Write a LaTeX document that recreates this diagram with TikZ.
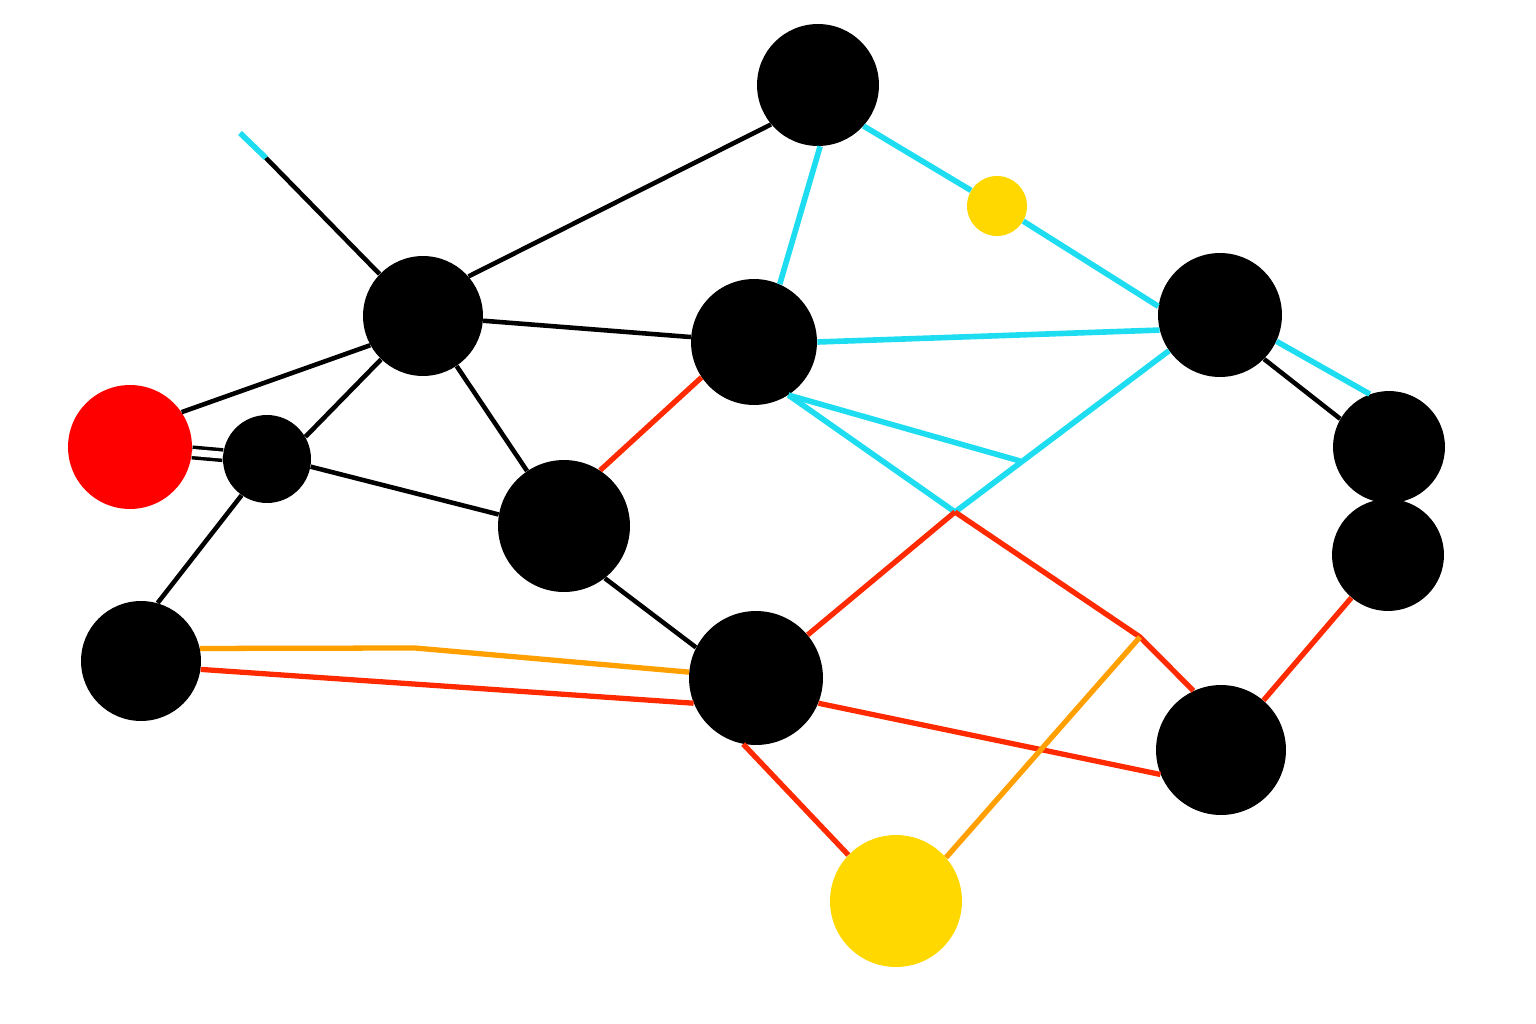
\documentclass[tikz,border=0pt]{standalone}
\usepackage{xcolor}
\usepackage{tikz}
\usetikzlibrary{calc,positioning}

\definecolor{netcyan}{HTML}{1EDDF0}
\definecolor{netred}{HTML}{FF2A00}
\definecolor{netorange}{HTML}{FFA000}
\definecolor{netyellow}{HTML}{FFD800}
\definecolor{dotred}{HTML}{FF0000}

\tikzset{
    dot/.style={circle,fill=black,inner sep=0pt,minimum size=0.04cm*#1},
    blk/.style={black,line width=2.6pt},
    cyn/.style={netcyan,line width=3.2pt},
    rd/.style={netred,line width=3pt},
    org/.style={netorange,line width=3pt}
}

\begin{document}
\begin{tikzpicture}[x=0.02cm,y=-0.02cm]

    \useasboundingbox (0,0) rectangle (1536,1024);

    % plot nodes
    \node[dot=61] (top) at (818,85) {};
    \node[dot=30,fill=netyellow] (ys) at (997,206) {};
    \node[dot=60] (A) at (423,316) {};
    \node[dot=63] (B) at (754,342) {};
    \node[dot=62] (R) at (1220,315) {};
    \node[dot=62,fill=dotred] (red) at (130,447) {};
    \node[dot=44] (S) at (267,459) {};
    \node[dot=66] (C) at (564,526) {};
    \node[dot=56] (D) at (1389,447) {};
    \node[dot=56] (E) at (1388,555) {};
    \node[dot=60] (F) at (141,661) {};
    \node[dot=67] (G) at (756,678) {};
    \node[dot=65] (H) at (1221,750) {};
    \node[dot=66,fill=netyellow] (yb) at (896,901) {};

    % free ends and bends
    \coordinate (tip) at (240,133);
    \coordinate (tipmid) at (266,158);
    \coordinate (X) at (955,512);
    \coordinate (Y) at (1020,461);
    \coordinate (K) at (1140,637);
    \coordinate (ob) at (415,648);

    % black links
    \draw[cyn] (tip) -- (tipmid);
    \draw[blk] (tipmid) -- (A.136);
    \draw[blk] (A.41) -- (top.220);
    \draw[blk] (A) -- (B);
    \draw[blk] (A.209) -- (red.34);
    \draw[blk] (A.226) -- (S.30);
    \draw[blk] (A) -- (C);
    \draw[blk,line width=2pt,double=white,double distance=0.14cm] (red) -- (S);
    \draw[blk] (S.-10) -- (C.170);
    \draw[blk] (S.235) -- (F.74);
    \draw[blk] (C.-52) -- (G.153);
    \draw[blk] (R.-45) -- (D.150);

    % cyan links
    \draw[cyn] (top.272) -- (B.66);
    \draw[cyn] (top.-42) -- (ys.149);
    \draw[cyn] (ys.-30) -- (R.172);
    \draw[cyn] (B.0) -- (R.194);
    \draw[cyn] (B.-57) -- (Y);
    \draw[cyn] (B.-57) -- (X);
    \draw[cyn] (R.215) -- (X);
    \draw[cyn] (R.-25) -- (D.110);

    % red links
    \draw[rd] (B.214) -- (C.57);
    \draw[rd] (X) -- (G);
    \draw[rd] (X) -- (K) -- (H.115);
    \draw[rd] (E) -- (H);
    \draw[rd] (F.-8) -- (G.202);
    \draw[rd] (G.-22) -- (H.202);
    \draw[rd] (G.259) -- (yb.136);

    % orange links
    \draw[org] (F.12) -- (ob) -- (G);
    \draw[org] (yb.41) -- (K);

\end{tikzpicture}
\end{document}
